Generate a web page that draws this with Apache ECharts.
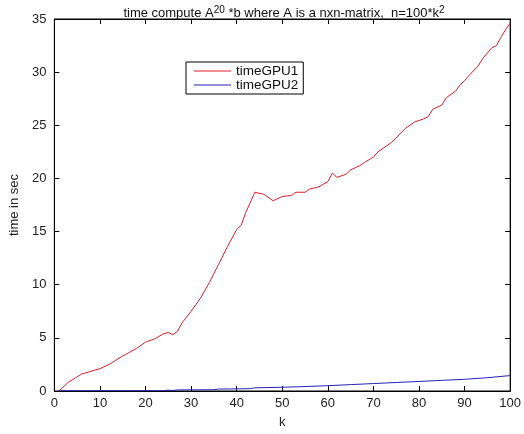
<!DOCTYPE html>
<html>
<head>
<meta charset="utf-8">
<script src="https://cdn.jsdelivr.net/npm/echarts@6/dist/echarts.min.js"></script>
<style>
  html, body { margin: 0; padding: 0; background: #fff; }
  #chart { width: 524px; height: 434px; }
</style>
</head>
<body>
<div id="chart"></div>
<script>
// k values and timings (seconds) for the first GPU run
const kGPU1 = [1, 3, 6, 10, 12, 15, 18, 20, 22, 24, 25, 26, 27, 28, 30, 32, 34, 36, 38, 40,
  41, 42, 44, 46, 48, 50, 52, 53, 55, 56, 58, 60, 61, 62, 64, 65, 67, 68, 70, 71,
  74, 77, 79, 81, 82, 83, 85, 86, 88, 89, 90, 91, 93, 94, 96, 97, 98, 99, 100];
const timeGPU1 = [0.0, 0.8, 1.6, 2.1, 2.5, 3.3, 4.0, 4.6, 4.9, 5.4, 5.5, 5.3, 5.6, 6.4, 7.5, 8.7, 10.2, 11.9, 13.6, 15.2,
  15.6, 16.8, 18.7, 18.5, 17.9, 18.3, 18.4, 18.7, 18.7, 19.0, 19.2, 19.7, 20.5, 20.1, 20.4, 20.8, 21.2, 21.5, 22.0, 22.5,
  23.4, 24.7, 25.3, 25.6, 25.8, 26.5, 26.9, 27.6, 28.2, 28.8, 29.2, 29.7, 30.6, 31.3, 32.3, 32.5, 33.3, 34.0, 34.6];

// k values and timings (seconds) for the second GPU run
const kGPU2 = [1, 24, 25, 26, 27, 35, 36, 43, 44, 50, 55, 60, 65, 70, 75, 80, 85, 90, 95, 100];
const timeGPU2 = [0.02, 0.03, 0.08, 0.05, 0.1, 0.12, 0.18, 0.22, 0.3, 0.35, 0.42, 0.5, 0.6, 0.7, 0.8, 0.9, 1.0, 1.1, 1.25, 1.45];

const kTicks = { min: 0, max: 100, interval: 10 };
const tTicks = { min: 0, max: 35, interval: 5 };

const pair = (xs, ys) => xs.map((x, i) => [x, ys[i]]);

const font = 'Liberation Sans, Arial, Helvetica, sans-serif';
const chart = echarts.init(document.getElementById('chart'), null, { renderer: 'canvas' });

const baseAxis = {
  axisLine: { show: true, onZero: false, lineStyle: { color: '#000', width: 1 } },
  axisTick: { show: true, inside: true, length: 5, lineStyle: { color: '#000' } },
  splitLine: { show: false },
  axisLabel: { color: '#222', fontSize: 13, fontFamily: font }
};

chart.setOption({
  backgroundColor: '#fff',
  animation: false,
  title: {
    text: 'time compute A{sup|20} *b where A is a nxn-matrix,  n=100*k{sup|2}',
    left: 279, textAlign: 'center', top: 0,
    textStyle: {
      fontSize: 13, fontWeight: 'normal', color: '#111', fontFamily: font,
      rich: { sup: { fontSize: 10, verticalAlign: 'top', padding: [0, 0, 6, 0], fontFamily: font, color: '#111' } }
    }
  },
  legend: {
    orient: 'vertical', left: 186, top: 62,
    backgroundColor: '#fff', borderColor: '#000', borderWidth: 1,
    padding: [2, 5, 2, 8], itemGap: 0,
    itemWidth: 37, itemHeight: 1, icon: 'rect',
    textStyle: { fontSize: 13.5, lineHeight: 14, color: '#111', fontFamily: font, padding: [0, 0, 0, 0] },
    data: ['timeGPU1', 'timeGPU2']
  },
  grid: { left: 52, right: 8, top: 19, bottom: 39, show: true, borderColor: '#000', borderWidth: 1, containLabel: false },
  xAxis: [
    Object.assign({}, baseAxis, {
      type: 'value', position: 'bottom', ...kTicks,
      name: 'k', nameLocation: 'middle', nameGap: 25,
      nameTextStyle: { fontSize: 13, color: '#222', fontFamily: font },
      axisLabel: Object.assign({}, baseAxis.axisLabel, { margin: 6 })
    }),
    Object.assign({}, baseAxis, {
      type: 'value', position: 'top', ...kTicks, axisLabel: { show: false }
    })
  ],
  yAxis: [
    Object.assign({}, baseAxis, {
      type: 'value', position: 'left', ...tTicks,
      name: 'time in sec', nameLocation: 'middle', nameGap: 30, nameRotate: 90,
      nameTextStyle: { fontSize: 13, color: '#222', fontFamily: font },
      axisLabel: Object.assign({}, baseAxis.axisLabel, { margin: 8 })
    }),
    Object.assign({}, baseAxis, {
      type: 'value', position: 'right', ...tTicks, axisLabel: { show: false }
    })
  ],
  series: [
    {
      name: 'timeGPU1', type: 'line', data: pair(kGPU1, timeGPU1),
      showSymbol: false, symbol: 'none',
      lineStyle: { color: '#dd1f2c', width: 1 }, itemStyle: { color: '#dd1f2c' }
    },
    {
      name: 'timeGPU2', type: 'line', data: pair(kGPU2, timeGPU2),
      showSymbol: false, symbol: 'none',
      lineStyle: { color: '#2323b8', width: 1 }, itemStyle: { color: '#2323b8' }
    }
  ]
});
</script>
</body>
</html>
